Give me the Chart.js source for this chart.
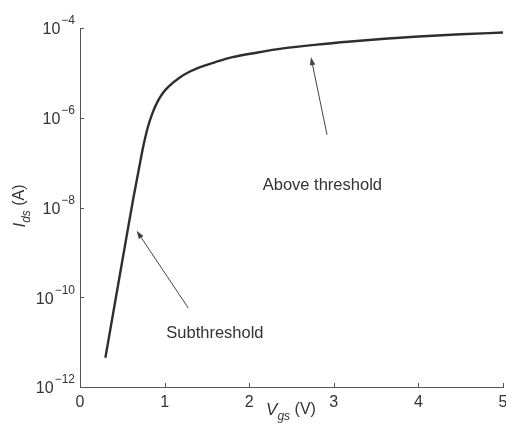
<!DOCTYPE html>
<html lang="en">
<head>
  <meta charset="UTF-8">
  <title>Ids vs Vgs</title>
  <style>
    html, body { margin: 0; padding: 0; background: #fff; }
    #wrap { width: 506px; height: 428px; position: relative; }
  </style>
</head>
<body>
<div id="wrap"><canvas id="chart" width="506" height="428"></canvas></div>
<script src="https://cdn.jsdelivr.net/npm/chart.js"></script>
<script>
// gate voltage (V)
const vgs = [0.3, 0.42, 0.55, 0.63, 0.7, 0.75, 0.8, 0.86, 0.92, 0.98, 1.05, 1.18,
             1.3, 1.42, 1.6, 1.8, 2.1, 2.4, 2.8, 3.2, 3.6, 4.0, 4.5, 5.0];
// drain current (A)
const ids = [4.47e-12, 8.9e-11, 2.24e-9, 1.58e-8, 7.9e-8, 2.4e-7, 6.0e-7, 1.32e-6,
             2.34e-6, 3.55e-6, 5.0e-6, 7.9e-6, 1.07e-5, 1.35e-5, 1.74e-5, 2.24e-5,
             2.85e-5, 3.51e-5, 4.27e-5, 5.01e-5, 5.75e-5, 6.46e-5, 7.24e-5, 7.94e-5];

const xTicks = [0, 1, 2, 3, 4, 5];
const yTicks = [1e-12, 1e-10, 1e-8, 1e-6, 1e-4];
const yTickExp = ['\u221212', '\u221210', '\u22128', '\u22126', '\u22124'];

// annotations in data units: text anchor, arrow tail, arrow head
const notes = [
  { text: 'Above threshold', at: [2.16, 10 ** -7.5], tail: [2.92, 10 ** -6.38], head: [2.73, 10 ** -4.65] },
  { text: 'Subthreshold',    at: [1.02, 10 ** -10.8], tail: [1.28, 10 ** -10.24], head: [0.67, 10 ** -8.52] }
];

const ink = '#333';
const axisInk = '#555';
const FONT = '"Liberation Sans", Arial, Helvetica, sans-serif';

const points = vgs.map((v, i) => ({ x: v, y: ids[i] }));

const decorations = {
  id: 'decorations',
  afterDraw(chart) {
    const ctx = chart.ctx;
    const xs = chart.scales.x, ys = chart.scales.y;
    const area = chart.chartArea;
    ctx.save();

    // inward tick marks
    ctx.strokeStyle = axisInk;
    ctx.lineWidth = 1;
    ctx.beginPath();
    xTicks.forEach(t => {
      const px = Math.round(xs.getPixelForValue(t)) + 0.5;
      ctx.moveTo(px, area.bottom);
      ctx.lineTo(px, area.bottom - 4);
    });
    yTicks.forEach(t => {
      const py = Math.round(ys.getPixelForValue(t)) + 0.5;
      ctx.moveTo(area.left, py);
      ctx.lineTo(area.left + 4, py);
    });
    ctx.stroke();

    // y tick labels: 10 with raised exponent
    ctx.fillStyle = ink;
    ctx.textBaseline = 'middle';
    ctx.textAlign = 'left';
    yTicks.forEach((t, i) => {
      const py = ys.getPixelForValue(t);
      ctx.font = '12px ' + FONT;
      const we = ctx.measureText(yTickExp[i]).width;
      ctx.font = '16px ' + FONT;
      const wb = ctx.measureText('10').width;
      const right = area.left - 5;
      ctx.fillText('10', right - we - wb - 1, py + 2);
      ctx.font = '12px ' + FONT;
      ctx.fillText(yTickExp[i], right - we, py - 7);
    });

    // annotations
    ctx.font = '16.5px ' + FONT;
    notes.forEach(n => {
      ctx.fillStyle = ink;
      ctx.fillText(n.text, xs.getPixelForValue(n.at[0]), ys.getPixelForValue(n.at[1]));
      const x1 = xs.getPixelForValue(n.tail[0]), y1 = ys.getPixelForValue(n.tail[1]);
      const x2 = xs.getPixelForValue(n.head[0]), y2 = ys.getPixelForValue(n.head[1]);
      const ang = Math.atan2(y2 - y1, x2 - x1);
      const c = Math.cos(ang), s = Math.sin(ang);
      ctx.strokeStyle = '#444';
      ctx.lineWidth = 1;
      ctx.beginPath();
      ctx.moveTo(x1, y1);
      ctx.lineTo(x2 - 5 * c, y2 - 5 * s);
      ctx.stroke();
      ctx.fillStyle = '#444';
      ctx.beginPath();
      ctx.moveTo(x2, y2);
      ctx.lineTo(x2 - 8 * c + 2.8 * s, y2 - 8 * s - 2.8 * c);
      ctx.lineTo(x2 - 8 * c - 2.8 * s, y2 - 8 * s + 2.8 * c);
      ctx.closePath();
      ctx.fill();
    });

    // axis titles with subscripts
    function subTitle(main, sub, rest) {
      ctx.font = 'italic 17px ' + FONT;
      const w1 = ctx.measureText(main).width;
      ctx.font = 'italic 12px ' + FONT;
      const w2 = ctx.measureText(sub).width;
      ctx.font = '16px ' + FONT;
      const w3 = ctx.measureText(rest).width;
      let x = -(w1 + w2 + w3) / 2;
      ctx.textAlign = 'left';
      ctx.textBaseline = 'middle';
      ctx.font = 'italic 17px ' + FONT;
      ctx.fillText(main, x, 0); x += w1;
      ctx.font = 'italic 12px ' + FONT;
      ctx.fillText(sub, x, 7); x += w2;
      ctx.font = '16px ' + FONT;
      ctx.fillText(rest, x, 0);
    }
    ctx.fillStyle = ink;
    ctx.save();
    ctx.translate(291, 410);
    subTitle('V', 'gs', ' (V)');
    ctx.restore();
    ctx.save();
    ctx.translate(20, 206);
    ctx.rotate(-Math.PI / 2);
    subTitle('I', 'ds', ' (A)');
    ctx.restore();

    ctx.restore();
  }
};

new Chart(document.getElementById('chart'), {
  type: 'scatter',
  data: {
    datasets: [{
      data: points,
      showLine: true,
      borderColor: '#2e2e2e',
      borderWidth: 2.4,
      pointRadius: 0,
      cubicInterpolationMode: 'monotone'
    }]
  },
  options: {
    responsive: false,
    animation: false,
    layout: { padding: { left: 0, top: 28, right: 3, bottom: 0 } },
    plugins: { legend: { display: false }, tooltip: { enabled: false } },
    scales: {
      x: {
        type: 'linear',
        min: 0, max: 5,
        grid: { display: false, drawTicks: false },
        border: { display: true, color: axisInk, width: 1 },
        afterBuildTicks: s => { s.ticks = xTicks.map(v => ({ value: v })); },
        ticks: { color: ink, font: { family: FONT, size: 16 }, padding: 6, maxRotation: 0 },
        afterFit: s => { s.height = 41; s.paddingLeft = 0; s.paddingRight = 0; }
      },
      y: {
        type: 'logarithmic',
        min: 1e-12, max: 1e-4,
        grid: { display: false, drawTicks: false },
        border: { display: true, color: axisInk, width: 1 },
        afterBuildTicks: s => { s.ticks = yTicks.map(v => ({ value: v })); },
        ticks: { display: false },
        afterFit: s => { s.width = 80; s.paddingTop = 0; s.paddingBottom = 0; }
      }
    }
  },
  plugins: [decorations]
});
</script>
</body>
</html>
